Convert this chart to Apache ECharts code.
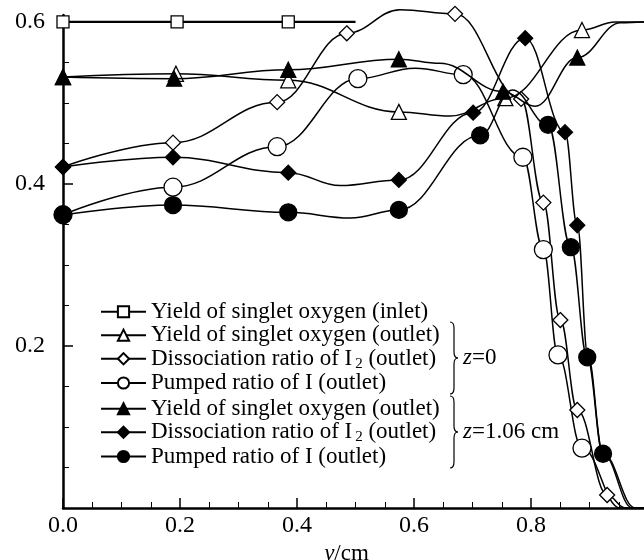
<!DOCTYPE html>
<html>
<head>
<meta charset="utf-8">
<script src="https://cdn.jsdelivr.net/npm/echarts@6/dist/echarts.min.js"></script>
<style>
  html, body { margin: 0; padding: 0; background: #fff; }
  #chart { width: 644px; height: 560px; }
</style>
</head>
<body>
<div id="chart"></div>
<script>
// values, [y (cm), ratio]
// points listed in *Marks get a marker, the others only shape the curve
var inletPts = [[0, 0.6], [0.195, 0.6], [0.385, 0.6], [0.5, 0.6]];
var inletMarks = [0, 1, 2];

var yield0Pts = [[0, 0.532], [0.193, 0.536], [0.385, 0.528], [0.574, 0.489], [0.662, 0.484],
  [0.756, 0.506], [0.887, 0.590], [0.944, 0.600], [0.993, 0.600]];
var yield0Marks = [0, 1, 2, 3, 5, 6];

var diss0Pts = [[0, 0.421], [0.188, 0.451], [0.366, 0.501], [0.485, 0.586], [0.576, 0.615],
  [0.670, 0.610], [0.783, 0.505], [0.821, 0.377], [0.850, 0.232], [0.879, 0.121],
  [0.930, 0.016], [0.961, 0.0], [0.993, 0.0]];
var diss0Marks = [0, 1, 2, 3, 5, 6, 7, 8, 9, 10];

var pump0Pts = [[0, 0.362], [0.188, 0.396], [0.366, 0.446], [0.504, 0.530], [0.602, 0.543],
  [0.684, 0.535], [0.786, 0.433], [0.821, 0.319], [0.846, 0.189], [0.887, 0.074],
  [0.952, 0.0], [0.993, 0.0]];
var pump0Marks = [0, 1, 2, 3, 5, 6, 7, 8, 9];

var yield1Pts = [[0, 0.532], [0.190, 0.530], [0.385, 0.541], [0.574, 0.554], [0.644, 0.549],
  [0.752, 0.514], [0.807, 0.496], [0.879, 0.556], [0.953, 0.599], [0.993, 0.600]];
var yield1Marks = [0, 1, 2, 3, 5, 7];

var diss1Pts = [[0, 0.421], [0.188, 0.433], [0.385, 0.414], [0.474, 0.398], [0.574, 0.405],
  [0.701, 0.488], [0.790, 0.580], [0.858, 0.464], [0.879, 0.349], [0.897, 0.188],
  [0.923, 0.067], [0.978, 0.0], [0.993, 0.0]];
var diss1Marks = [0, 1, 2, 4, 5, 6, 7, 8, 9, 10];

var pump1Pts = [[0, 0.362], [0.188, 0.374], [0.385, 0.365], [0.491, 0.358], [0.574, 0.368],
  [0.713, 0.460], [0.768, 0.516], [0.829, 0.473], [0.868, 0.322], [0.896, 0.186],
  [0.923, 0.067], [0.973, 0.0], [0.993, 0.0]];
var pump1Marks = [0, 1, 2, 4, 5, 7, 8, 9, 10];

var names = [
  'Yield of singlet oxygen (inlet)',
  'Yield of singlet oxygen (outlet)',
  'Dissociation ratio of I2 (outlet)',
  'Pumped ratio of I (outlet)',
  'Yield of singlet oxygen (outlet) ',
  'Dissociation ratio of I2 (outlet) ',
  'Pumped ratio of I (outlet) '
];
var xTicks = [0, 0.2, 0.4, 0.6, 0.8];
var yTicks = [0.2, 0.4, 0.6];

var font = "'Liberation Serif', 'Times New Roman', serif";

function makeSeries(name, pts, marks, symbol, size, filled, lw) {
  return {
    name: name,
    type: 'line',
    smooth: 0.4,
    smoothMonotone: 'x',
    clip: false,
    symbol: symbol,
    symbolSize: size,
    showAllSymbol: true,
    data: pts.map(function (p, i) {
      return marks.indexOf(i) >= 0 ? { value: p } : { value: p, symbol: 'none' };
    }),
    lineStyle: { color: '#000', width: lw },
    itemStyle: { color: filled ? '#000' : '#fff', borderColor: '#000', borderWidth: 1.3 },
    emphasis: { disabled: true },
    z: filled ? 3 : 2
  };
}

// right curly brace made of two straight pieces and four quadratic curves
function brace(x, top, bottom) {
  var mid = (top + bottom) / 2;
  var st = { stroke: '#000', fill: null, lineWidth: 1.2 };
  return [
    { type: 'bezierCurve', shape: { x1: x, y1: top, cpx1: x + 4, cpy1: top, x2: x + 4, y2: top + 6 }, style: st },
    { type: 'line', shape: { x1: x + 4, y1: top + 6, x2: x + 4, y2: mid - 6 }, style: st },
    { type: 'bezierCurve', shape: { x1: x + 4, y1: mid - 6, cpx1: x + 4, cpy1: mid, x2: x + 8, y2: mid }, style: st },
    { type: 'bezierCurve', shape: { x1: x + 8, y1: mid, cpx1: x + 4, cpy1: mid, x2: x + 4, y2: mid + 6 }, style: st },
    { type: 'line', shape: { x1: x + 4, y1: mid + 6, x2: x + 4, y2: bottom - 6 }, style: st },
    { type: 'bezierCurve', shape: { x1: x + 4, y1: bottom - 6, cpx1: x + 4, cpy1: bottom, x2: x, y2: bottom }, style: st }
  ];
}

var legendText = {
  fontFamily: font, fontSize: 23, color: '#000', lineHeight: 23.5,
  rich: { sub: { fontFamily: font, fontSize: 15, color: '#000', padding: [10, 0, 0, 3] } }
};
function legendFmt(n) {
  return n.replace('I2', 'I{sub|2}');
}

var chart = echarts.init(document.getElementById('chart'));
chart.setOption({
  animation: false,
  grid: { left: 63, right: 0, top: 15, bottom: 52, outerBoundsMode: 'none', containLabel: false },
  xAxis: {
    type: 'value', min: 0, max: 0.993, interval: 0.2,
    name: '{i|y}/cm', nameLocation: 'middle', nameGap: 33,
    nameTextStyle: {
      fontFamily: font, fontSize: 23, color: '#000', padding: [0, 14, 0, 0],
      rich: { i: { fontFamily: font, fontSize: 23, fontStyle: 'italic', color: '#000' } }
    },
    axisLine: { lineStyle: { color: '#000', width: 2.5 } },
    axisTick: { inside: true, length: 10, customValues: xTicks, lineStyle: { color: '#000', width: 1.5 } },
    minorTick: { show: true, splitNumber: 4, length: 6, lineStyle: { color: '#000', width: 1 } },
    axisLabel: {
      customValues: xTicks, margin: 6, color: '#000', fontFamily: font, fontSize: 24,
      formatter: function (v) { return v.toFixed(1); }
    },
    splitLine: { show: false }
  },
  yAxis: {
    type: 'value', min: 0, max: 0.6086, interval: 0.2,
    axisLine: { show: true, lineStyle: { color: '#000', width: 2.5 } },
    axisTick: { inside: true, length: 10, customValues: yTicks, lineStyle: { color: '#000', width: 1.5 } },
    minorTick: { show: true, splitNumber: 4, length: 6, lineStyle: { color: '#000', width: 1 } },
    axisLabel: {
      customValues: yTicks, margin: 18, color: '#000', fontFamily: font, fontSize: 24,
      formatter: function (v) { return v.toFixed(1); }
    },
    splitLine: { show: false }
  },
  legend: [
    {
      data: names.slice(0, 4), orient: 'vertical', left: 100, top: 300, padding: 0,
      itemWidth: 45, itemHeight: 14, itemGap: 0, selectedMode: false,
      textStyle: legendText, formatter: legendFmt
    },
    {
      data: names.slice(4), orient: 'vertical', left: 100, top: 397, padding: 0,
      itemWidth: 45, itemHeight: 14, itemGap: 0, selectedMode: false,
      textStyle: legendText, formatter: legendFmt
    }
  ],
  graphic: brace(450, 322, 394).concat(brace(450, 396, 468)).concat([
    {
      type: 'text', x: 463, y: 358,
      style: {
        text: '{i|z}=0', fill: '#000', fontFamily: font, fontSize: 23, verticalAlign: 'middle',
        rich: { i: { fontFamily: font, fontSize: 23, fontStyle: 'italic', fill: '#000' } }
      }
    },
    {
      type: 'text', x: 463, y: 432,
      style: {
        text: '{i|z}=1.06 cm', fill: '#000', fontFamily: font, fontSize: 23, verticalAlign: 'middle',
        rich: { i: { fontFamily: font, fontSize: 23, fontStyle: 'italic', fill: '#000' } }
      }
    }
  ]),
  series: [
    makeSeries(names[0], inletPts, inletMarks, 'rect', 12, false, 2.2),
    makeSeries(names[1], yield0Pts, yield0Marks, 'triangle', 15, false, 1.5),
    makeSeries(names[2], diss0Pts, diss0Marks, 'diamond', 15, false, 1.5),
    makeSeries(names[3], pump0Pts, pump0Marks, 'circle', 18, false, 1.5),
    makeSeries(names[4], yield1Pts, yield1Marks, 'triangle', 15, true, 1.5),
    makeSeries(names[5], diss1Pts, diss1Marks, 'diamond', 15, true, 1.5),
    makeSeries(names[6], pump1Pts, pump1Marks, 'circle', 17, true, 1.5)
  ]
});
</script>
</body>
</html>
